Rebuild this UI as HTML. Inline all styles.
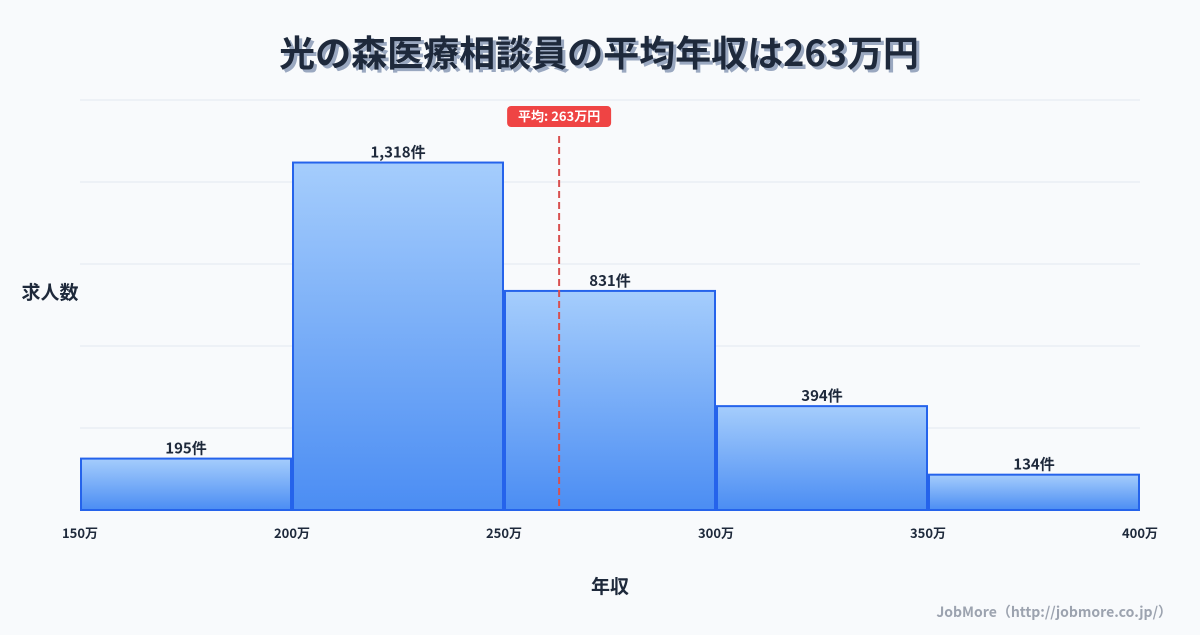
<!DOCTYPE html>
<html><head><meta charset="utf-8"><style>
body{margin:0;background:#f8fafc;}
svg text{font-family:"Noto Sans CJK JP","Liberation Sans",sans-serif;}
</style></head><body>
<svg width="1200" height="630" viewBox="0 0 1200 630" xmlns="http://www.w3.org/2000/svg">
<defs><linearGradient id="g" x1="0" y1="0" x2="0" y2="1"><stop offset="0" stop-color="#a5cdfc"/><stop offset="1" stop-color="#4b8df3"/></linearGradient></defs>
<rect width="1200" height="630" fill="#f8fafc"/>
<text x="602" y="69" text-anchor="middle" font-size="36" font-weight="bold" fill="#9aa8c0">光の森医療相談員の平均年収は263万円</text>
<text x="599" y="66" text-anchor="middle" font-size="36" font-weight="bold" fill="#1e293b">光の森医療相談員の平均年収は263万円</text>
<g id="grid"></g><g id="bars"></g><g id="xt"></g>
<text x="50" y="299" text-anchor="middle" font-size="19" font-weight="bold" fill="#1e293b">求人数</text>
<text x="610" y="593" text-anchor="middle" font-size="19" font-weight="bold" fill="#1e293b">年収</text>
<text x="1172" y="617" text-anchor="end" font-size="14" font-weight="bold" fill="#9ca3af">JobMore（http://jobmore.co.jp/）</text>
<g id="mean"></g>
</svg>
<script>
const binStarts=[150,200,250,300,350];
const binEnds=[200,250,300,350,400];
const counts=[195,1318,831,394,134];
const xTicks=[150,200,250,300,350,400];
const meanValue=263;
const NS="http://www.w3.org/2000/svg";
const X0=80,X1=1140,Y0=510,Y1=100,xmin=150,xmax=400;
const ymax=Math.max(...counts)*1.18;
const xs=v=>X0+(v-xmin)/(xmax-xmin)*(X1-X0);
const ys=v=>Y0-v/ymax*(Y0-Y1);
function mk(t,a,p){const e=document.createElementNS(NS,t);for(const k in a)e.setAttribute(k,a[k]);p.appendChild(e);return e;}
const grid=document.getElementById('grid');
for(let i=0;i<=5;i++){const y=Y1+i*(Y0-Y1)/5;const l=mk('line',{x1:X0,x2:X1,y1:y,y2:y,stroke:'#e2e8f0','stroke-width':1},grid);

}
const bars=document.getElementById('bars');
counts.forEach((c,i)=>{const x=xs(binStarts[i])+1,w=xs(binEnds[i])-xs(binStarts[i])-2,y=ys(c);
const r=mk('rect',{x:x,y:y,width:w,height:Y0-y,fill:'url(#g)',stroke:'#2563eb','stroke-width':2},bars);


const t=mk('text',{x:x+w/2,y:y-5,'text-anchor':'middle','font-size':15,'font-weight':'bold',fill:'#1e293b'},bars);
t.textContent=c.toLocaleString('en-US')+'件';

});
const xt=document.getElementById('xt');
xTicks.forEach(v=>{const t=mk('text',{x:xs(v),y:538,'text-anchor':'middle','font-size':13,'font-weight':'bold',fill:'#1e293b'},xt);
t.textContent=v+'万';

});
const mg=document.getElementById('mean');const mx=xs(meanValue);
const ml=mk('line',{x1:mx,x2:mx,y1:136,y2:Y0,stroke:'#d85050','stroke-width':2,'stroke-dasharray':'7,4'},mg);


const mb=mk('rect',{x:mx-52,y:106,width:104,height:21,rx:4,fill:'#ef4444'},mg);


const mt=mk('text',{x:mx,y:121,'text-anchor':'middle','font-size':13,'font-weight':'bold',fill:'#fff'},mg);
mt.textContent='平均: '+meanValue+'万円';


</script>
</body></html>
